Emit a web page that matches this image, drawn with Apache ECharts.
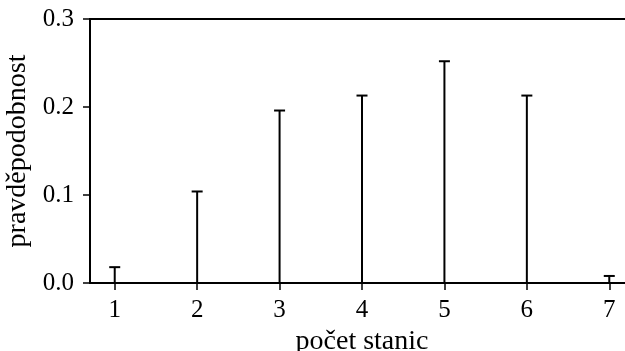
<!DOCTYPE html>
<html>
<head>
<meta charset="utf-8">
<script src="https://cdn.jsdelivr.net/npm/echarts@6/dist/echarts.min.js"></script>
<style>
html,body{margin:0;padding:0;overflow:hidden;background:#fff;width:625px;height:351px;}
#chart{width:640px;height:351px;}
</style>
</head>
<body>
<div id="chart"></div>
<script>
const stations = [1, 2, 3, 4, 5, 6, 7];
const probabilities = [0.018, 0.104, 0.196, 0.213, 0.252, 0.213, 0.008];
const yTicks = [0.0, 0.1, 0.2, 0.3];
const xName = 'počet stanic';
const yName = 'pravděpodobnost';

const FONT = 'Liberation Serif';
const chart = echarts.init(document.getElementById('chart'), null, {renderer: 'canvas'});

const data = stations.map((s, i) => [s, probabilities[i]]);

chart.setOption({
  animation: false,
  backgroundColor: '#fff',
  grid: {left: 90, right: 6, top: 19, bottom: 68, outerBoundsMode: 'none', containLabel: false,
    show: true, borderColor: '#000', borderWidth: 2, backgroundColor: 'transparent'},
  xAxis: {
    type: 'value', min: 0.7, max: 7.3,
    name: xName, nameLocation: 'middle', nameGap: 42,
    nameTextStyle: {fontFamily: FONT, fontSize: 28, color: '#000'},
    axisLine: {show: true, lineStyle: {color: '#000', width: 2}},
    axisTick: {show: true, length: 7, lineStyle: {color: '#000', width: 1.5}, customValues: stations},
    axisLabel: {fontFamily: FONT, fontSize: 25, color: '#000', margin: 15, customValues: stations},
    splitLine: {show: false}
  },
  yAxis: {
    type: 'value', min: yTicks[0], max: yTicks[yTicks.length - 1], interval: 0.1,
    name: yName, nameLocation: 'middle', nameGap: 56,
    nameTextStyle: {fontFamily: FONT, fontSize: 28, color: '#000'},
    axisLine: {show: true, lineStyle: {color: '#000', width: 2}},
    axisTick: {show: true, length: 7, lineStyle: {color: '#000', width: 1.5}},
    axisLabel: {fontFamily: FONT, fontSize: 25, color: '#000', margin: 16,
      formatter: v => v.toFixed(1)},
    splitLine: {show: false}
  },
  series: [{
    type: 'custom',
    data: data,
    clip: false,
    renderItem: function (params, api) {
      const x = api.value(0), y = api.value(1);
      const base = api.coord([x, 0]);
      const top = api.coord([x, y]);
      const half = 5.5;
      return {
        type: 'group',
        children: [
          {type: 'line', shape: {x1: base[0], y1: base[1], x2: top[0], y2: top[1]},
           style: {stroke: '#000', lineWidth: 2}},
          {type: 'line', shape: {x1: top[0] - half, y1: top[1], x2: top[0] + half, y2: top[1]},
           style: {stroke: '#000', lineWidth: 2}}
        ]
      };
    }
  }]
});
</script>
</body>
</html>
